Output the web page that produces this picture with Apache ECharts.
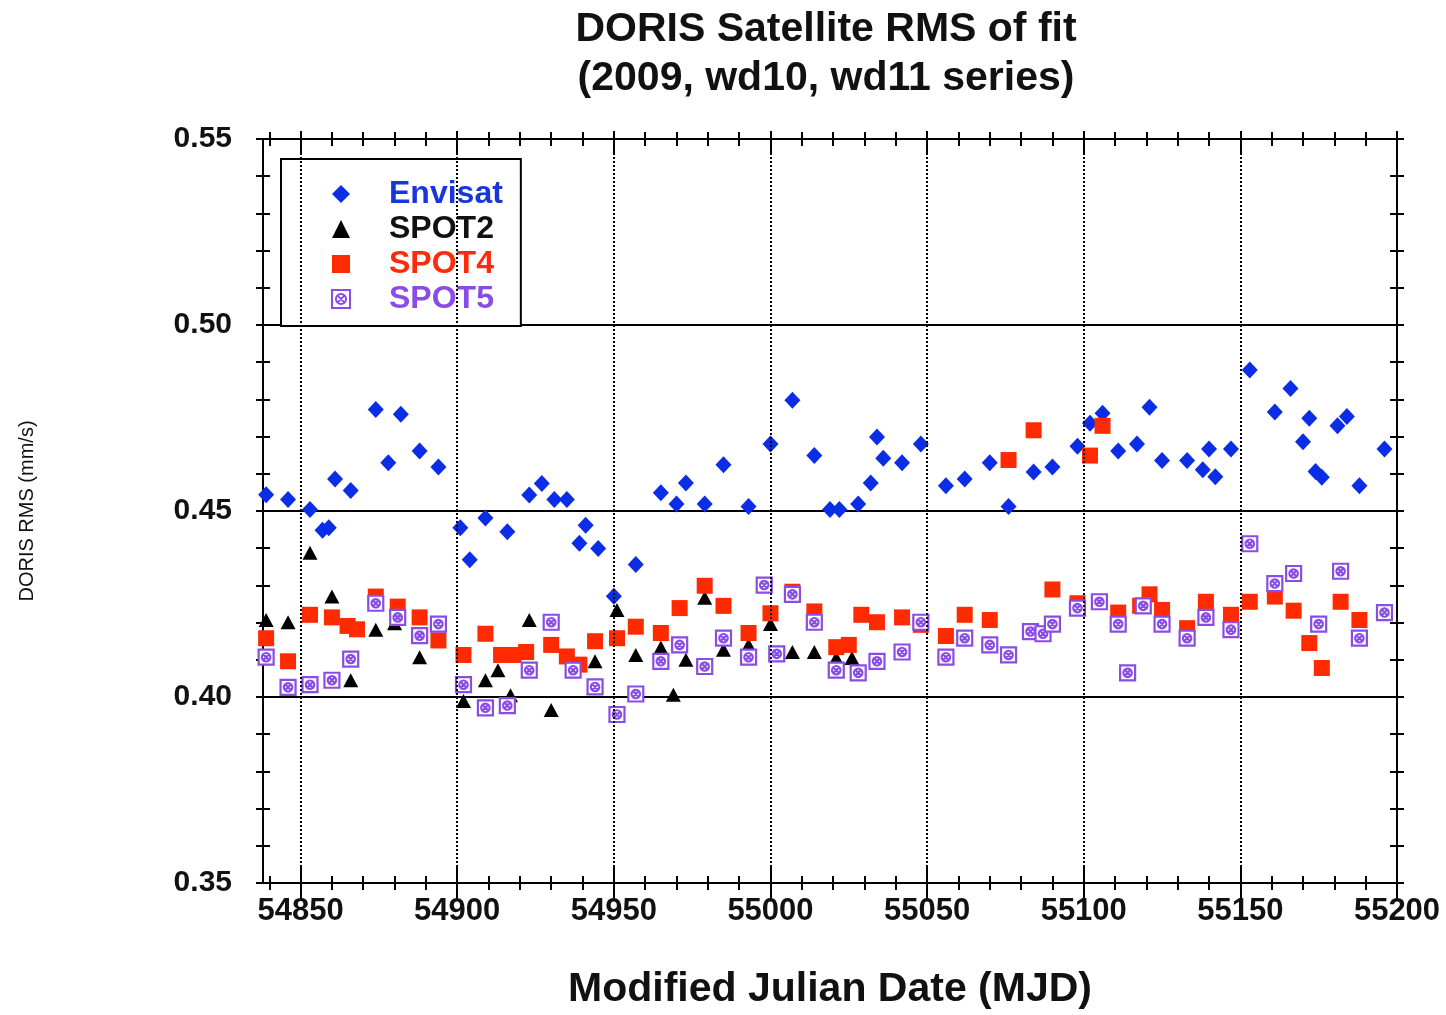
<!DOCTYPE html>
<html>
<head>
<meta charset="utf-8">
<title>DORIS Satellite RMS of fit</title>
<script src="https://cdn.jsdelivr.net/npm/echarts@6/dist/echarts.min.js"></script>
<style>
  html, body { margin: 0; padding: 0; background: #fff; }
  #chart { width: 1446px; height: 1015px; }
</style>
</head>
<body>
<div id="chart"></div>
<script>
// values (MJD, RMS in mm/s)
const envisatMjd = [54839, 54846, 54853, 54857, 54859, 54861, 54866, 54874, 54878, 54882, 54888, 54894,
  54901, 54904, 54909, 54916, 54923, 54927, 54931, 54935, 54939, 54941, 54945, 54950, 54957,
  54965, 54970, 54973, 54979, 54985, 54993, 55000, 55007, 55014, 55019, 55022, 55028, 55032,
  55034, 55036, 55042, 55048, 55056, 55062, 55070, 55076, 55084, 55090, 55098, 55102, 55106,
  55111, 55117, 55121, 55125, 55133, 55138, 55140, 55142, 55147, 55153, 55161, 55166, 55170,
  55172, 55174, 55176, 55181, 55184, 55188, 55196];
const envisatRms = [0.4544, 0.4531, 0.4504, 0.4448, 0.4455, 0.4586, 0.4555, 0.4773, 0.4630, 0.4760, 0.4661, 0.4618,
  0.4455, 0.4369, 0.4481, 0.4444, 0.4543, 0.4574, 0.4531, 0.4531, 0.4413, 0.4462, 0.4399, 0.4271, 0.4356,
  0.4549, 0.4519, 0.4575, 0.4519, 0.4624, 0.4512, 0.4680, 0.4798, 0.4649, 0.4504, 0.4504, 0.4519, 0.4575,
  0.4699, 0.4642, 0.4630, 0.4680, 0.4568, 0.4586, 0.4630, 0.4512, 0.4605, 0.4618, 0.4674, 0.4736, 0.4763,
  0.4661, 0.4680, 0.4779, 0.4636, 0.4636, 0.4611, 0.4667, 0.4592, 0.4667, 0.4879, 0.4766, 0.4829, 0.4686,
  0.4749, 0.4606, 0.4591, 0.4729, 0.4754, 0.4568, 0.4667];

const spot2Mjd = [54839, 54846, 54853, 54860, 54866, 54874, 54880, 54888, 54902, 54909, 54913, 54917,
  54923, 54930, 54944, 54951, 54957, 54965, 54969, 54973, 54979, 54985, 54993, 55000, 55007,
  55014, 55021, 55026];
const spot2Rms = [0.4207, 0.4201, 0.4388, 0.4270, 0.4045, 0.4181, 0.4198, 0.4107, 0.3989, 0.4045, 0.4072, 0.4005,
  0.4207, 0.3965, 0.4096, 0.4234, 0.4113, 0.4133, 0.4006, 0.4100, 0.4267, 0.4127, 0.4140, 0.4196, 0.4121,
  0.4121, 0.4105, 0.4105];

const spot4Mjd = [54839, 54846, 54853, 54860, 54865, 54868, 54874, 54881, 54888, 54894, 54902, 54909,
  54914, 54918, 54922, 54930, 54935, 54939, 54944, 54951, 54957, 54965, 54971, 54979, 54985,
  54993, 55000, 55007, 55014, 55021, 55025, 55029, 55034, 55042, 55048, 55056, 55062, 55070,
  55076, 55084, 55090, 55098, 55102, 55106, 55111, 55118, 55121, 55125, 55133, 55139, 55147,
  55153, 55161, 55167, 55172, 55176, 55182, 55188];
const spot4Rms = [0.4158, 0.4096, 0.4221, 0.4214, 0.4191, 0.4182, 0.4270, 0.4243, 0.4214, 0.4152, 0.4113, 0.4170,
  0.4113, 0.4113, 0.4121, 0.4140, 0.4109, 0.4087, 0.4150, 0.4158, 0.4189, 0.4172, 0.4239, 0.4299, 0.4245,
  0.4172, 0.4225, 0.4283, 0.4230, 0.4134, 0.4140, 0.4221, 0.4201, 0.4214, 0.4194, 0.4164, 0.4221, 0.4207,
  0.4637, 0.4717, 0.4289, 0.4252, 0.4649, 0.4729, 0.4227, 0.4245, 0.4276, 0.4234, 0.4185, 0.4256, 0.4221,
  0.4256, 0.4270, 0.4232, 0.4145, 0.4078, 0.4256, 0.4207];

const spot5Mjd = [54839, 54846, 54853, 54860, 54866, 54874, 54881, 54888, 54894, 54902, 54909, 54916,
  54923, 54930, 54937, 54944, 54951, 54957, 54965, 54971, 54979, 54985, 54993, 54998, 55002,
  55007, 55014, 55021, 55028, 55034, 55042, 55048, 55056, 55062, 55070, 55076, 55083, 55087,
  55090, 55098, 55105, 55111, 55114, 55119, 55125, 55133, 55139, 55147, 55153, 55161, 55167,
  55175, 55182, 55188, 55196];
const spot5Rms = [0.4107, 0.4026, 0.4033, 0.4045, 0.4102, 0.4252, 0.4214, 0.4165, 0.4196, 0.4033, 0.3971, 0.3977,
  0.4072, 0.4201, 0.4072, 0.4027, 0.3953, 0.4008, 0.4096, 0.4140, 0.4082, 0.4158, 0.4107, 0.4301, 0.4116,
  0.4276, 0.4201, 0.4072, 0.4065, 0.4096, 0.4121, 0.4201, 0.4107, 0.4158, 0.4140, 0.4113, 0.4176, 0.4170,
  0.4196, 0.4239, 0.4256, 0.4196, 0.4065, 0.4245, 0.4196, 0.4158, 0.4214, 0.4181, 0.4412, 0.4305, 0.4332,
  0.4196, 0.4338, 0.4158, 0.4227];

// axis ticks
const xMajorTicks = [54850, 54900, 54950, 55000, 55050, 55100, 55150, 55200];
const xMinorTicks = [54840, 54850, 54860, 54870, 54880, 54890, 54900, 54910, 54920, 54930, 54940, 54950,
  54960, 54970, 54980, 54990, 55000, 55010, 55020, 55030, 55040, 55050, 55060, 55070, 55080,
  55090, 55100, 55110, 55120, 55130, 55140, 55150, 55160, 55170, 55180, 55190, 55200];
const xGridLines = [54850, 54900, 54950, 55000, 55050, 55100, 55150];

const xMin = 54838, xMax = 55200;
const yMin = 0.35, yMax = 0.55;
const font = '"Liberation Sans", Arial, Helvetica, sans-serif';

const pairs = (xs, ys) => xs.map((x, i) => [x, ys[i]]);

const spot5Symbol = 'path://M0,0H16V16H0Z M8,3.5A4.5,4.5,0,0,1,8,12.5A4.5,4.5,0,0,1,8,3.5Z M4.8,4.8L11.2,11.2M11.2,4.8L4.8,11.2';

// extra axes carry only the tick marks that cross the frame
function xTickAxis(position, offset, length, values) {
  return {
    type: 'value', position: position, offset: offset, min: xMin, max: xMax,
    axisLine: { show: false }, axisLabel: { show: false }, splitLine: { show: false },
    axisTick: { show: true, inside: true, length: length, customValues: values,
      lineStyle: { color: '#000', width: 2 } }
  };
}
function yTickAxis(position) {
  return {
    type: 'value', position: position, offset: 7, min: yMin, max: yMax, interval: 0.01,
    axisLine: { show: false }, axisLabel: { show: false }, splitLine: { show: false },
    axisTick: { show: true, inside: true, length: 14, lineStyle: { color: '#000', width: 2 } }
  };
}

const chart = echarts.init(document.getElementById('chart'));

const option = {
  backgroundColor: '#fff',
  animation: false,
  textStyle: { fontFamily: font },
  title: {
    text: 'DORIS Satellite RMS of fit\n(2009, wd10, wd11 series)',
    left: 821, top: 0, textAlign: 'center',
    textStyle: { fontFamily: font, fontSize: 41, fontWeight: 'bold', color: '#111', lineHeight: 49 }
  },
  legend: {
    orient: 'vertical', left: 281, top: 159,
    padding: [19, 18, 11, 50],
    itemWidth: 18, itemHeight: 18, itemGap: 3,
    borderColor: '#000', borderWidth: 2, backgroundColor: '#fff',
    textStyle: { fontFamily: font, fontSize: 32, fontWeight: 'bold', lineHeight: 30, padding: [0, 0, 0, 34] },
    data: [
      { name: 'Envisat', textStyle: { color: '#1736dc' } },
      { name: 'SPOT2', textStyle: { color: '#111' } },
      { name: 'SPOT4', textStyle: { color: '#ff2a0a' } },
      { name: 'SPOT5', textStyle: { color: '#8a4ce6' } }
    ]
  },
  grid: {
    left: 263, right: 49, top: 139, bottom: 129,
    show: true, borderColor: '#000', borderWidth: 2, backgroundColor: 'transparent'
  },
  xAxis: [
    {
      type: 'value', position: 'bottom', min: xMin, max: xMax,
      axisLine: { show: false }, axisTick: { show: false }, splitLine: { show: false },
      axisLabel: {
        customValues: xMajorTicks, margin: 13, formatter: v => String(v),
        fontFamily: font, fontSize: 31, fontWeight: 'bold', color: '#111'
      },
      name: 'Modified Julian Date (MJD)', nameLocation: 'middle', nameGap: 86,
      nameTextStyle: { fontFamily: font, fontSize: 41, fontWeight: 'bold', color: '#111' }
    },
    xTickAxis('bottom', 16, 32, xMajorTicks),
    xTickAxis('bottom', 7, 14, xMinorTicks),
    xTickAxis('top', 8, 24, xMajorTicks),
    xTickAxis('top', 7, 14, xMinorTicks)
  ],
  yAxis: [
    {
      type: 'value', position: 'left', min: yMin, max: yMax, interval: 0.05,
      axisLine: { show: false }, axisTick: { show: false },
      splitLine: { show: true, lineStyle: { color: '#000', width: 2, type: 'solid' } },
      axisLabel: {
        margin: 31, padding: [0, 0, 10, 0],
        formatter: v => v.toFixed(2),
        fontFamily: font, fontSize: 30, fontWeight: 'bold', color: '#111'
      },
      name: 'DORIS RMS (mm/s)', nameLocation: 'middle', nameGap: 226,
      nameTextStyle: { fontFamily: font, fontSize: 20, color: '#111' }
    },
    yTickAxis('left'),
    yTickAxis('right')
  ],
  series: [
    {
      name: 'Envisat', type: 'scatter', symbol: 'diamond', symbolSize: [16, 17],
      itemStyle: { color: '#0b2de6', opacity: 1 },
      data: pairs(envisatMjd, envisatRms),
      markLine: {
        silent: true, symbol: ['none', 'none'], label: { show: false }, animation: false,
        lineStyle: { color: '#000', width: 2, type: 'dotted' },
        emphasis: { disabled: true },
        data: xGridLines.map(v => ({ xAxis: v }))
      }
    },
    {
      name: 'SPOT2', type: 'scatter', symbol: 'triangle', symbolSize: [15, 14],
      itemStyle: { color: '#000', opacity: 1 },
      data: pairs(spot2Mjd, spot2Rms)
    },
    {
      name: 'SPOT4', type: 'scatter', symbol: 'rect', symbolSize: 16,
      itemStyle: { color: '#ff2a00', opacity: 1 },
      data: pairs(spot4Mjd, spot4Rms)
    },
    {
      name: 'SPOT5', type: 'scatter', symbol: spot5Symbol, symbolSize: 15,
      itemStyle: { color: '#fff', borderColor: '#8a4ce6', borderWidth: 2.2, opacity: 1 },
      data: pairs(spot5Mjd, spot5Rms)
    }
  ]
};

chart.setOption(option);
</script>
</body>
</html>
